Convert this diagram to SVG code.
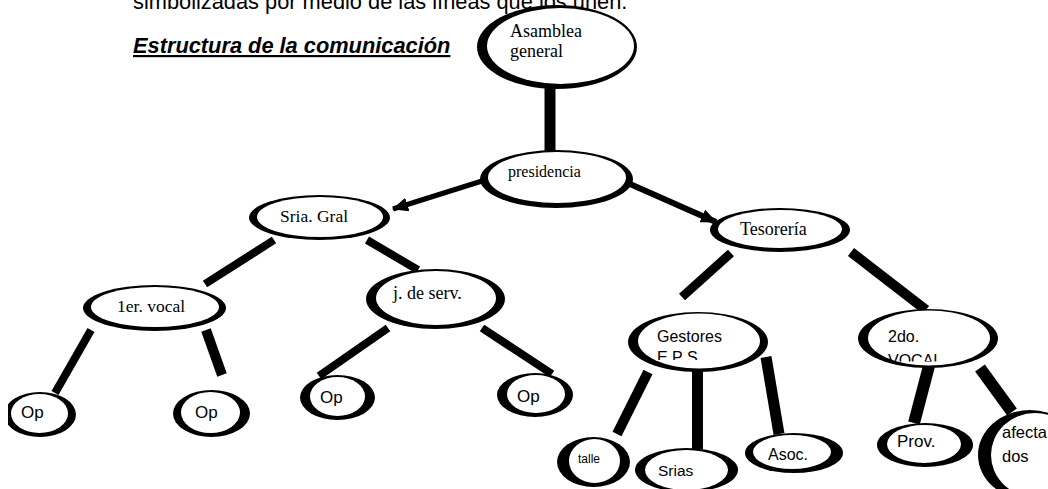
<svg xmlns="http://www.w3.org/2000/svg" width="1048" height="489" viewBox="0 0 1048 489">
<style>
.o{fill:#000}
.i{fill:#fff}
.sf{font-family:"Liberation Serif","Times New Roman",serif;fill:#000}
.ss{font-family:"Liberation Sans",Arial,sans-serif;fill:#000}
.c line{stroke:#000;stroke-linecap:butt;fill:none}
</style>
<defs>
<marker id="ah" markerUnits="userSpaceOnUse" markerWidth="16" markerHeight="14" refX="15" refY="7" orient="auto">
<path d="M0,0 L16,7 L0,14 z" fill="#000"/>
</marker>
<clipPath id="cOp1"><rect x="8" y="380" width="100" height="70"/></clipPath>
<clipPath id="cGes"><rect x="630" y="300" width="140" height="60"/></clipPath>
<clipPath id="cVoc"><rect x="860" y="300" width="140" height="61.5"/></clipPath>
</defs>
<rect width="1048" height="489" fill="#fff"/>

<text class="ss" x="133" y="9" font-size="21.8">simbolizadas por medio de las líneas que los unen.</text>
<text class="ss" x="133" y="53" font-size="21.8" font-weight="bold" font-style="italic" text-decoration="underline">Estructura de la comunicación</text>

<g class="c" id="connectors">
<line x1="550" y1="88" x2="550" y2="152" stroke-width="11"/>
<line x1="482" y1="181" x2="393" y2="209" stroke-width="5" marker-end="url(#ah)"/>
<line x1="630" y1="184" x2="716" y2="222" stroke-width="6" marker-end="url(#ah)"/>
<line x1="274" y1="240" x2="205" y2="284" stroke-width="8"/>
<line x1="367" y1="240" x2="418" y2="270" stroke-width="8"/>
<line x1="91" y1="330" x2="55" y2="393" stroke-width="8"/>
<line x1="206" y1="330" x2="222" y2="375" stroke-width="10"/>
<line x1="388" y1="328" x2="319" y2="376" stroke-width="8"/>
<line x1="482" y1="328" x2="552" y2="374" stroke-width="8"/>
<line x1="731" y1="253" x2="682" y2="297" stroke-width="9"/>
<line x1="851" y1="252" x2="926" y2="310" stroke-width="10"/>
<line x1="648" y1="372" x2="617" y2="434" stroke-width="10"/>
<line x1="697.5" y1="370" x2="697.5" y2="449" stroke-width="11"/>
<line x1="766" y1="357" x2="779" y2="434" stroke-width="11"/>
<line x1="929" y1="366" x2="914" y2="423" stroke-width="12"/>
<line x1="980" y1="368" x2="1012" y2="412" stroke-width="12"/>
</g>

<g id="asamblea">
<ellipse class="o" cx="557" cy="47" rx="80" ry="42"/>
<ellipse class="i" cx="560.5" cy="46" rx="73.5" ry="38"/>
<text class="sf" x="510" y="37" font-size="18">Asamblea</text>
<text class="sf" x="510" y="57" font-size="18">general</text>
</g>

<g id="presidencia">
<ellipse class="o" cx="556.5" cy="179" rx="76.5" ry="29"/>
<ellipse class="i" cx="557" cy="177.5" rx="69" ry="25.5"/>
<text class="sf" x="508" y="177" font-size="16">presidencia</text>
</g>

<g id="sria-gral">
<ellipse class="o" cx="319.5" cy="217.5" rx="70.5" ry="22.5"/>
<ellipse class="i" cx="320" cy="217" rx="63" ry="20"/>
<text class="sf" x="280" y="222" font-size="17.5">Sria. Gral</text>
</g>

<g id="tesoreria">
<ellipse class="o" cx="780" cy="230" rx="70" ry="22"/>
<ellipse class="i" cx="780" cy="229" rx="62" ry="19"/>
<text class="sf" x="740" y="235" font-size="18">Tesorería</text>
</g>

<g id="primer-vocal">
<ellipse class="o" cx="154.5" cy="308" rx="71.5" ry="23"/>
<ellipse class="i" cx="155" cy="307" rx="64" ry="20"/>
<text class="sf" x="117" y="312" font-size="17.5">1er. vocal</text>
</g>

<g id="j-de-serv">
<ellipse class="o" cx="435.5" cy="299" rx="69.5" ry="30"/>
<ellipse class="i" cx="436" cy="298" rx="60" ry="27"/>
<text class="sf" x="393" y="299" font-size="18">j. de serv.</text>
</g>

<g id="op1">
<g clip-path="url(#cOp1)">
<ellipse class="o" cx="40" cy="414.5" rx="36" ry="22.5"/>
<ellipse class="i" cx="39.5" cy="413.5" rx="28.5" ry="19.5"/>
</g>
<text class="ss" x="21" y="418" font-size="17">Op</text>
</g>

<g id="op2">
<ellipse class="o" cx="211.5" cy="413.5" rx="38.5" ry="23.5"/>
<ellipse class="i" cx="210.5" cy="412.5" rx="29.5" ry="20.5"/>
<text class="ss" x="195" y="418" font-size="17">Op</text>
</g>

<g id="op3">
<ellipse class="o" cx="337.5" cy="397.5" rx="37.5" ry="22.5"/>
<ellipse class="i" cx="337.5" cy="396.5" rx="27.5" ry="19.5"/>
<text class="ss" x="320" y="403" font-size="17">Op</text>
</g>

<g id="op4">
<ellipse class="o" cx="535" cy="395" rx="38" ry="22"/>
<ellipse class="i" cx="536" cy="394" rx="29" ry="19"/>
<text class="ss" x="517" y="402" font-size="17">Op</text>
</g>

<g id="gestores">
<ellipse class="o" cx="698" cy="342" rx="70" ry="30"/>
<ellipse class="i" cx="699" cy="341" rx="61" ry="27.5"/>
<g clip-path="url(#cGes)">
<text class="ss" x="657" y="342" font-size="16">Gestores</text>
<text class="ss" x="657" y="363" font-size="16">E P S</text>
</g>
</g>

<g id="segundo-vocal">
<ellipse class="o" cx="928" cy="338.5" rx="70" ry="29.5"/>
<ellipse class="i" cx="929" cy="338" rx="61" ry="27.5"/>
<g clip-path="url(#cVoc)">
<text class="ss" x="888" y="342" font-size="16">2do.</text>
<text class="ss" x="888" y="366" font-size="16">VOCAL.</text>
</g>
</g>

<g id="talle">
<ellipse class="o" cx="593.5" cy="462" rx="36.5" ry="25"/>
<ellipse class="i" cx="594.5" cy="461" rx="25.5" ry="22"/>
<text class="ss" x="578" y="463" font-size="12">talle</text>
</g>

<g id="srias">
<ellipse class="o" cx="686.5" cy="470" rx="51.5" ry="22"/>
<ellipse class="i" cx="686.5" cy="470" rx="41.5" ry="20"/>
<text class="ss" x="658" y="476" font-size="15.5">Srias</text>
</g>

<g id="asoc">
<ellipse class="o" cx="794" cy="453" rx="49" ry="20"/>
<ellipse class="i" cx="792" cy="452" rx="39" ry="17"/>
<text class="ss" x="768" y="460" font-size="16">Asoc.</text>
</g>

<g id="prov">
<ellipse class="o" cx="925" cy="445" rx="48" ry="22"/>
<ellipse class="i" cx="924" cy="444" rx="37" ry="19"/>
<text class="ss" x="897" y="447" font-size="17">Prov.</text>
</g>

<g id="afectados">
<ellipse class="o" cx="1030" cy="455" rx="52" ry="45"/>
<ellipse class="i" cx="1035" cy="455" rx="44" ry="42"/>
<text class="ss" x="1002" y="438" font-size="16.5">afecta</text>
<text class="ss" x="1002" y="462" font-size="16.5">dos</text>
</g>
</svg>
